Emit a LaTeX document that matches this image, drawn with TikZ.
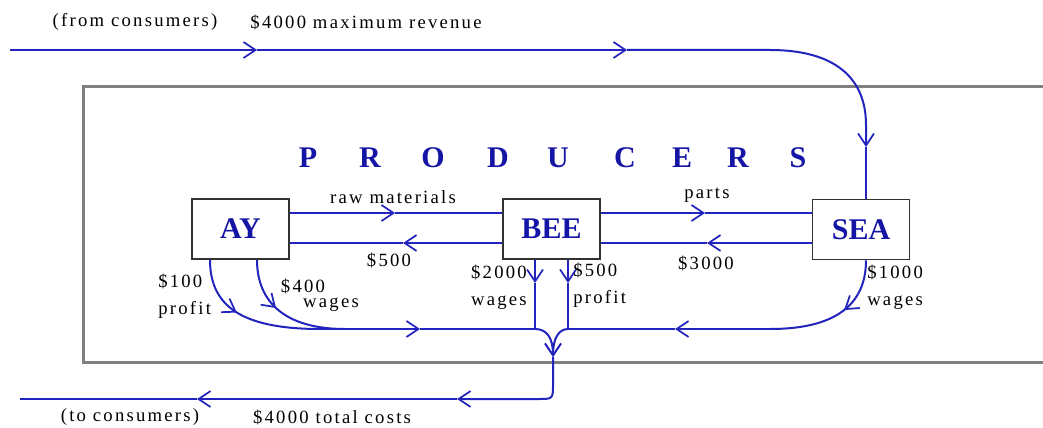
\documentclass[tikz,border=0pt]{standalone}
\usepackage{fontspec}
\setmainfont{Liberation Serif}
\newfontfamily\lblfont{Liberation Serif}[LetterSpace=12]
\usetikzlibrary{arrows.meta,decorations.markings}
\definecolor{flowc}{RGB}{35,35,190}
\definecolor{titlec}{RGB}{20,20,165}
\definecolor{framec}{RGB}{128,128,128}
\definecolor{boxc}{RGB}{50,50,50}
\begin{document}
\begin{tikzpicture}[x=0.75pt,y=-0.75pt,
  tipb/.tip={Straight Barb[length=9pt,width=12pt,line width=1.3pt]},
  flow/.style={draw=flowc, color=flowc, line width=1.5pt},
  midtip/.style={postaction={decorate, decoration={markings, mark=at position #1 with {\arrow{tipb}}}}},
  lbl/.style={font=\lblfont\fontsize{14}{20}\selectfont, inner sep=0pt, text=black},
  ttl/.style={font=\bfseries\fontsize{22.5}{27}\selectfont, text=titlec, inner sep=0pt},
  firm/.style={draw=boxc, line width=1.2pt, fill=white, minimum width=72.75pt, minimum height=45pt, inner sep=0pt,
    font=\bfseries\fontsize{22.5}{27}\selectfont, text=titlec}]
\useasboundingbox (0,0) rectangle (1043,428);
% frame
\draw[framec, line width=2.25pt] (1046,87) -- (83,87) -- (83,362) -- (1046,362);
% boxes
\node[firm] (AY) at (240.5,229) {AY};
\node[firm] (BEE) at (551.5,229) {BEE};
\node[firm] (SEA) at (861,229.5) {SEA};
% title
\foreach \l/\x [count=\i] in {P/308,R/370,O/433,D/498,U/558,C/625,E/682,R/738,S/798}
  \node[ttl] (t\i) at (\x,158) {\l};
% top flow
\coordinate (tl) at (10,50);
\coordinate (ta1) at (257,50);
\coordinate (ta2) at (627,50);
\coordinate (tc) at (770,50);
\coordinate (ta3) at (866,147);
\draw[flow,-tipb] (tl) -- (ta1);
\draw[flow,-tipb] (ta1) -- (ta2);
\draw[flow,-tipb] (ta2) -- (tc) .. controls (835,50) and (866,78) .. (866,125) -- (ta3);
\draw[flow] (ta3) -- (ta3 |- SEA.north);
% horizontal flows between firms
\coordinate (rm) at (395,213);
\coordinate (m5) at (403,243);
\coordinate (pa) at (705,213);
\coordinate (m3) at (707,243);
\draw[flow,-tipb] (AY.east |- rm) -- (rm);
\draw[flow] (rm) -- (BEE.west |- rm);
\draw[flow,-tipb] (BEE.west |- m5) -- (m5);
\draw[flow] (m5) -- (AY.east |- m5);
\draw[flow,-tipb] (BEE.east |- pa) -- (pa);
\draw[flow] (pa) -- (SEA.west |- pa);
\draw[flow,-tipb] (SEA.west |- m3) -- (m3);
\draw[flow] (m3) -- (BEE.east |- m3);
% AY outflows
\coordinate (c1) at (210,259);
\coordinate (c2) at (257,259);
\coordinate (lj) at (320,329);
\coordinate (lj2) at (345,329);
\coordinate (la) at (420,329);
\coordinate (bl) at (535,329);
\coordinate (br) at (568,329);
\coordinate (ra) at (675,329);
\coordinate (rj) at (770,329);
\draw[flow, midtip=0.42] (AY.south -| c1) .. controls (210,305) and (240,329) .. (lj);
\draw[flow, midtip=0.42] (AY.south -| c2) .. controls (257,302) and (285,329) .. (lj2);
\draw[flow,-tipb] (lj) -- (la);
\draw[flow] (la) -- (bl);
% BEE outflows
\coordinate (ba1) at (535,283);
\coordinate (ba2) at (568,283);
\draw[flow,-tipb] (BEE.south -| bl) -- (ba1);
\draw[flow] (ba1) -- (bl);
\draw[flow,-tipb] (BEE.south -| br) -- (ba2);
\draw[flow] (ba2) -- (br);
% SEA outflow
\coordinate (sw) at (866,260);
\draw[flow, midtip=0.42] (SEA.south -| sw) .. controls (866,305) and (835,329) .. (rj);
\draw[flow,-tipb] (rj) -- (ra);
\draw[flow] (ra) -- (br);
% merge
\coordinate (mg) at (553,357);
\draw[flow,-tipb] (bl) .. controls (547,329) and (553,338) .. (mg);
\draw[flow,-tipb] (br) .. controls (559,329) and (553,338) .. (mg);
% bottom flow
\coordinate (bta) at (457,399);
\coordinate (btb) at (197,399);
\coordinate (bte) at (20,399);
\draw[flow,-tipb] (mg) -- (553,384) .. controls (553,399) .. (538,399) -- (bta);
\draw[flow,-tipb] (bta) -- (btb);
\draw[flow] (btb) -- (bte);
% labels
\node[lbl] (lfrom) at (135,22) {(from consumers)};
\node[lbl] (lmax) at (366,22) {\$4000 maximum revenue};
\node[lbl] (lraw) at (393,197) {raw materials};
\node[lbl] (l500) at (389,260) {\$500};
\node[lbl] (lparts) at (707,195) {parts};
\node[lbl] (l3000) at (706,263) {\$3000};
\node[lbl, align=left, anchor=west] (l100) at (158,296) {\$100\\profit};
\node[lbl] (l400) at (303,286) {\$400};
\node[lbl] (l400w) at (331,305) {wages};
\node[lbl, align=right, anchor=east] (l2000) at (527,287) {\$2000\\wages};
\node[lbl, align=left, anchor=west] (l500p) at (573,285) {\$500\\profit};
\node[lbl, align=left, anchor=west] (l1000) at (867,287) {\$1000\\wages};
\node[lbl] (lto) at (130,417) {(to consumers)};
\node[lbl] (ltot) at (332,417) {\$4000 total costs};
\end{tikzpicture}
\end{document}
